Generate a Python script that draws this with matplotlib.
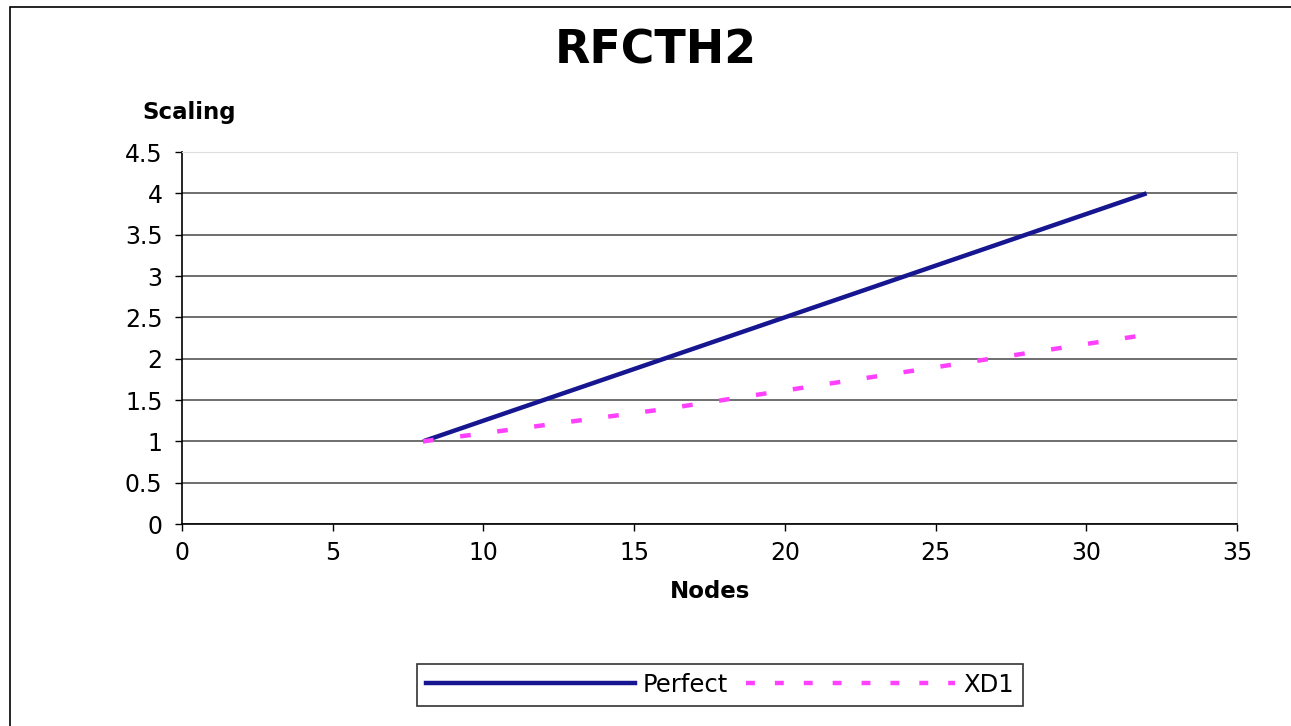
import matplotlib.pyplot as plt
from matplotlib.patches import Rectangle
from matplotlib.lines import Line2D

plt.rcParams['font.family'] = ['DejaVu Sans']

nodes = [8, 16, 32]
perfect = [1, 2, 4]
xd1 = [1, 1.39, 2.29]
series_names = ["Perfect", "XD1"]

W, H = 1291, 726
fig = plt.figure(figsize=(W / 100, H / 100), dpi=100)

# outer chart frame
fig.patches.append(Rectangle((10 / W, -0.1), 1.2, 1 - 7 / H + 0.1,
                             transform=fig.transFigure, fill=False,
                             edgecolor='black', linewidth=1.2))

ax = fig.add_axes([182 / W, 1 - 524 / H, (1237 - 182) / W, (524 - 152) / H])
ax.plot(nodes, perfect, color='#161690', linewidth=3.2, solid_capstyle='butt')
ax.plot(nodes, xd1, color='#ff40ff', linewidth=3.2, dashes=(2.4, 6.0))

ax.set_xlim(0, 35)
ax.set_ylim(0, 4.5)
ax.set_xticks(range(0, 36, 5))
ax.set_yticks([i * 0.5 for i in range(10)])
ax.set_yticklabels(['0', '0.5', '1', '1.5', '2', '2.5', '3', '3.5', '4', '4.5'])
ax.grid(axis='y', color='#555555', linewidth=1.2)
ax.set_axisbelow(True)
ax.tick_params(labelsize=17, length=5, width=1, direction='out')
ax.tick_params(axis='y', pad=9)
ax.tick_params(axis='x', pad=7)
for s in ['top', 'right']:
    ax.spines[s].set_color('#dddddd')
for s in ['left', 'bottom']:
    ax.spines[s].set_color('black')
    ax.spines[s].set_linewidth(1.2)

fig.text(656 / W, 1 - 51 / H, "RFCTH2", ha='center', va='center',
         fontsize=33, fontweight='bold')
fig.text(189 / W, 1 - 113 / H, "Scaling", ha='center', va='center',
         fontsize=16.5, fontweight='bold')
fig.text(710 / W, 1 - 591 / H, "Nodes", ha='center', va='center',
         fontsize=16.5, fontweight='bold')

handles = [Line2D([], [], color='#161690', linewidth=3.2),
           Line2D([], [], color='#ff40ff', linewidth=3.2, dashes=(2.0, 4.5))]
leg = fig.legend(handles, series_names, loc='center',
                 bbox_to_anchor=(720 / W, 1 - 685 / H), ncol=2,
                 fontsize=17.5, frameon=True, fancybox=False,
                 handlelength=8.6, handletextpad=0.33, columnspacing=0.75,
                 borderpad=0.35, borderaxespad=0)
leg.get_frame().set_edgecolor('black')
leg.get_frame().set_linewidth(1.2)

fig.savefig("out.png", dpi=100)
